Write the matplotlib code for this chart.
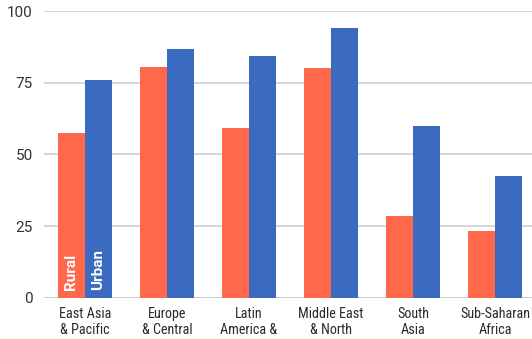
import matplotlib
matplotlib.use("Agg")
import matplotlib.pyplot as plt
import numpy as np

regions = ["East Asia\n& Pacific", "Europe\n& Central\nAsia", "Latin\nAmerica &\nCaribbean",
           "Middle East\n& North\nAfrica", "South\nAsia", "Sub-Saharan\nAfrica"]
rural = [57.5, 80.4, 59.2, 80.1, 28.5, 23.3]
urban = [75.9, 86.7, 84.3, 94.0, 59.9, 42.4]
yticks = [0, 25, 50, 75, 100]

RURAL_C = "#FF684B"
URBAN_C = "#3A6BC0"
narrow = ["Roboto Condensed", "DejaVu Sans"]

fig = plt.figure(figsize=(5.32, 3.39), dpi=100)
ax = fig.add_axes([0.0827, 0.1218, 0.9248, 0.8457])

x = np.arange(len(regions))
w = 0.33
ax.bar(x - w / 2, rural, width=w, color=RURAL_C, zorder=3)
ax.bar(x + w / 2, urban, width=w, color=URBAN_C, zorder=3)

ax.set_xlim(-0.5, len(regions) - 0.5)
ax.set_ylim(0, 100)
ax.set_yticks(yticks)
ax.set_yticklabels([str(t) for t in yticks], fontsize=11, color="#333333",
                   family=["Roboto", "DejaVu Sans"])
for t in yticks:
    ax.axhline(t, color="#bbbbbb" if t == 0 else "#cccccc",
               lw=1.8 if t == 0 else 1.1, zorder=1)

ax.set_xticks(x)
ax.set_xticklabels(regions, fontsize=10.2, color="#2a2a2a", family=narrow,
                   linespacing=1.18, va="top")
ax.tick_params(axis="x", length=0, pad=7)
ax.tick_params(axis="y", length=0, pad=8)
for s in ax.spines.values():
    s.set_visible(False)

bold = ["Roboto", "DejaVu Sans"]
ax.text(x[0] - w / 2, 2.6, "Rural", rotation=90, color="white", fontsize=11,
        fontweight="bold", ha="center", va="bottom", family=bold, zorder=4)
ax.text(x[0] + w / 2, 2.6, "Urban", rotation=90, color="white", fontsize=11,
        fontweight="bold", ha="center", va="bottom", family=bold, zorder=4)

fig.savefig("out.png", dpi=100)
